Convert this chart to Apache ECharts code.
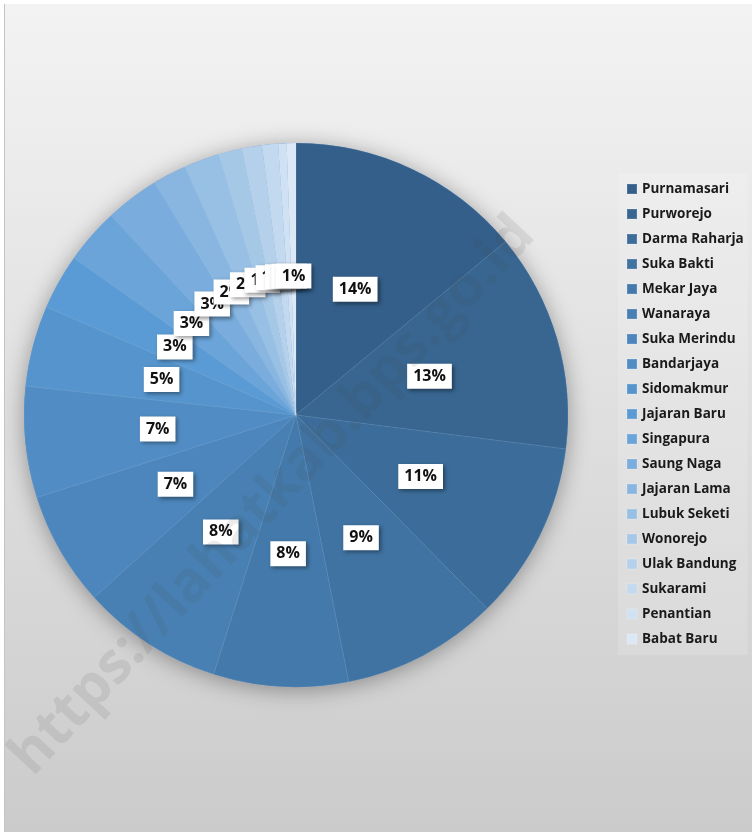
<!DOCTYPE html>
<html>
<head>
<meta charset="utf-8">
<script src="https://cdn.jsdelivr.net/npm/echarts@6/dist/echarts.min.js"></script>
<style>
  html, body { margin: 0; padding: 0; background: #fff; }
  #chart { position: absolute; left: 4px; top: 4px; width: 748px; height: 828px; border-left: 1px solid #c4c4c4; }
</style>
</head>
<body>
<div id="chart"></div>
<script>
const categories = [
  'Purnamasari', 'Purworejo', 'Darma Raharja', 'Suka Bakti', 'Mekar Jaya',
  'Wanaraya', 'Suka Merindu', 'Bandarjaya', 'Sidomakmur', 'Jajaran Baru',
  'Singapura', 'Saung Naga', 'Jajaran Lama', 'Lubuk Seketi', 'Wonorejo',
  'Ulak Bandung', 'Sukarami', 'Penantian', 'Babat Baru'
];
// share of each village, in percent
const shares = [14, 13, 10.6, 9.3, 8.0, 8.4, 6.8, 6.6, 4.8, 3.3, 3.3, 3.2, 2.0, 2.1, 1.4, 1.2, 0.95, 0.5, 0.55];

const sliceColors = [
  '#345f8a', '#386691', '#3c6d9a', '#4073a2', '#447aab', '#4880b3', '#4c86bc',
  '#518dc4', '#5594cc', '#5b9bd5', '#6aa4d9', '#7aaddd', '#89b6e1', '#98bfe4',
  '#a6c8e7', '#b4d0eb', '#c2d9ef', '#cfe1f3', '#dce8f5'
];

const chart = echarts.init(document.getElementById('chart'));

chart.setOption({
  backgroundColor: new echarts.graphic.LinearGradient(0, 0, 0, 1, [
    { offset: 0, color: '#f3f3f3' },
    { offset: 1, color: '#cbcbcb' }
  ]),
  color: sliceColors,
  legend: {
    orient: 'vertical',
    left: 613,
    top: 169,
    padding: [8, 4, 8, 8],
    backgroundColor: 'rgba(255,255,255,0.15)',
    itemWidth: 10,
    itemHeight: 10,
    itemGap: 9,
    icon: 'rect',
    textStyle: { fontFamily: 'Open Sans', fontSize: 13.5, fontWeight: 'bold', color: '#1a1a1a', lineHeight: 16 },
    data: categories
  },
  graphic: [{
    type: 'text',
    x: 268,
    y: 492,
    rotation: 47 * Math.PI / 180,
    z: 100,
    silent: true,
    style: {
      text: 'https://lahatkab.bps.go.id',
      font: 'bold 57px "Open Sans"',
      fill: 'rgba(70,70,70,0.11)',
      align: 'center',
      verticalAlign: 'middle'
    }
  }],
  series: [
    {
      // soft drop shadow under the whole pie
      type: 'pie',
      silent: true,
      center: [291, 411],
      radius: 272,
      label: { show: false },
      itemStyle: { color: '#5b8fc4', shadowBlur: 22, shadowColor: 'rgba(0,0,0,0.35)', shadowOffsetY: 3 },
      data: [{ value: 1, name: '' }],
      legendHoverLink: false,
      z: 1
    },
    {
      type: 'pie',
      center: [291, 411],
      radius: 272,
      startAngle: 90,
      clockwise: true,
      avoidLabelOverlap: false,
      z: 2,
      itemStyle: { borderColor: 'rgba(255,255,255,0.12)', borderWidth: 0.6 },
      labelLayout: { hideOverlap: false },
      label: {
        show: true,
        position: 'inside',
        formatter: (p) => Math.round(p.percent) + '%',
        fontFamily: 'Open Sans',
        fontSize: 16,
        fontWeight: 'bold',
        color: '#111',
        backgroundColor: '#fff',
        padding: [5, 6, 4, 6],
        shadowBlur: 4,
        shadowOffsetX: 2,
        shadowOffsetY: 2,
        shadowColor: 'rgba(0,0,0,0.4)'
      },
      labelLine: { show: false },
      data: categories.map((c, i) => ({ name: c, value: shares[i] }))
    }
  ]
});
</script>
</body>
</html>
